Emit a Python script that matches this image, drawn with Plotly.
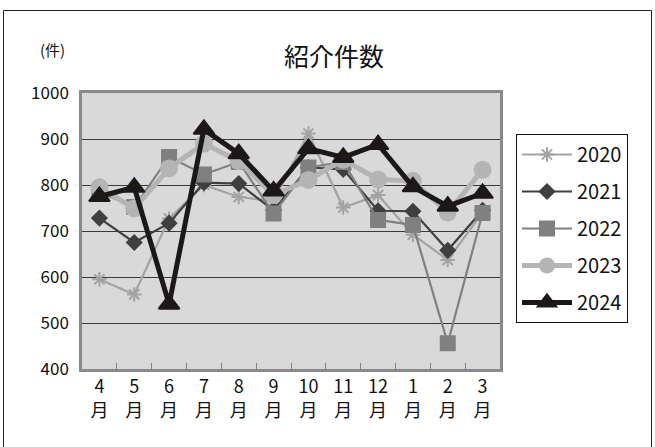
import plotly.graph_objects as go

# Monthly referral counts (fiscal year April -> March)
months = ["4", "5", "6", "7", "8", "9", "10", "11", "12", "1", "2", "3"]
years = ["2020", "2021", "2022", "2023", "2024"]

counts_2020 = [595, 562, 727, 800, 774, 765, 912, 751, 778, 692, 637, 740]
counts_2021 = [728, 675, 717, 805, 803, 745, 838, 834, 744, 743, 658, 745]
counts_2022 = [785, 752, 861, 823, 850, 738, 838, 850, 724, 713, 456, 739]
counts_2023 = [795, 749, 836, 890, 852, 778, 811, 855, 812, 809, 740, 833]
counts_2024 = [775, 795, 541, 921, 868, 787, 879, 860, 888, 796, 754, 782]

series = [counts_2020, counts_2021, counts_2022, counts_2023, counts_2024]

# Per-series styling: colour, line width, marker symbol, marker size
styles = [
    dict(color="#a3a3a3", width=2.2, symbol="asterisk-open", size=12),
    dict(color="#3f3f3f", width=2.2, symbol="diamond", size=11),
    dict(color="#808080", width=2.2, symbol="square", size=14),
    dict(color="#b4b4b4", width=5, symbol="circle", size=18),
    dict(color="#1c1818", width=5, symbol="triangle-up", size=18),
]

x_labels = [m + "<br>月" for m in months]

W, H = 655, 447
L, R, T, B = 82, 500, 93, 369  # plot-area pixel edges

fig = go.Figure()
for name, vals, st in zip(years, series, styles):
    fig.add_trace(go.Scatter(
        x=x_labels, y=vals, name=name, mode="lines+markers",
        legendgroup=name,
        line=dict(color=st["color"], width=st["width"]),
        marker=dict(symbol=st["symbol"], size=st["size"], color=st["color"],
                    line=dict(color=st["color"], width=2 if st["symbol"] != "circle" else 0)),
    ))


def px_x(px):
    return (px - L) / (R - L)


def px_y(py):
    return (B - py) / (B - T)


font_family = "Noto Sans CJK JP"

fig.update_layout(
    width=W, height=H,
    margin=dict(l=L, r=W - R, t=T, b=H - B),
    paper_bgcolor="white",
    plot_bgcolor="#d9d9d9",
    font=dict(family=font_family, color="#111111"),
    showlegend=True,
    legend=dict(
        x=px_x(516), y=px_y(134), xanchor="left", yanchor="top",
        bgcolor="white", bordercolor="#111111", borderwidth=1,
        font=dict(size=20, family=font_family, color="#111111"),
        tracegroupgap=8,
        itemwidth=50,
    ),
    annotations=[
        dict(text="紹介件数", x=px_x(334), y=px_y(55), xref="paper", yref="paper",
             showarrow=False, font=dict(size=25, family=font_family, color="#111111"),
             xanchor="center", yanchor="middle"),
        dict(text="(件)", x=px_x(52), y=px_y(50), xref="paper", yref="paper",
             showarrow=False, font=dict(size=15, family=font_family, color="#111111"),
             xanchor="center", yanchor="middle"),
    ],
    shapes=[
        dict(type="rect", xref="paper", yref="paper",
             x0=px_x(3.5), x1=px_x(651.5), y0=px_y(470), y1=px_y(10.5),
             line=dict(color="#222222", width=1), fillcolor="rgba(0,0,0,0)",
             layer="below"),
    ],
)

fig.update_xaxes(
    type="category",
    range=[-0.5, len(months) - 0.5],
    tickson="boundaries",
    ticks="inside", ticklen=6, tickcolor="#808080", tickwidth=1,
    showline=True, linecolor="#8a8a8a", linewidth=2.5, mirror=True,
    showgrid=False,
    tickfont=dict(size=18, family=font_family, color="#111111"),
)
fig.update_yaxes(
    range=[400, 1000], dtick=100,
    showline=True, linecolor="#8a8a8a", linewidth=2.5, mirror=True,
    showgrid=True, gridcolor="#3a3a3a", gridwidth=1,
    ticks="", ticklabelstandoff=7,
    tickfont=dict(size=17, family=font_family, color="#111111"),
    zeroline=False,
)

fig.write_html("out.html")
